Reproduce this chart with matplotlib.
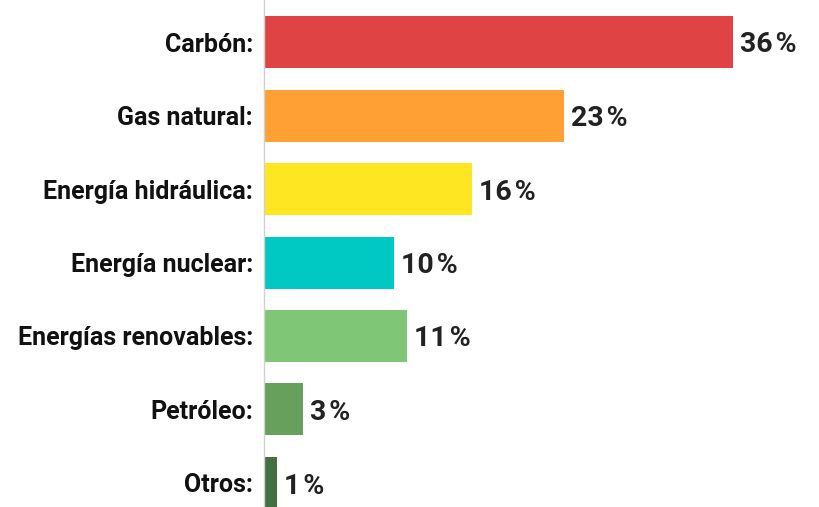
import matplotlib
matplotlib.use("Agg")
import matplotlib.pyplot as plt

# datos
categorias = ["Carbón:", "Gas natural:", "Energía hidráulica:", "Energía nuclear:",
              "Energías renovables:", "Petróleo:", "Otros:"]
valores = [36, 23, 16, 10, 11, 3, 1]
colores = ["#E04344", "#FFA035", "#FFE622", "#00C8C2", "#7FC676", "#679F5D", "#446F3F"]

plt.rcParams['font.family'] = ['Roboto', 'DejaVu Sans']

W, H = 819, 507
fig = plt.figure(figsize=(W / 100, H / 100), dpi=100)
x0 = 264
paso = 73.5      # separación entre barras en px
centro0 = 42     # centro de la primera barra en px
escala = 13.03   # px por punto porcentual

ax = fig.add_axes([x0 / W, 0, (W - x0) / W, 1])
pos = list(range(len(categorias)))
ax.barh(pos, valores, height=52 / paso, color=colores)

ax.set_xlim(0, (W - x0) / escala)
ax.set_ylim((H - centro0) / paso, -centro0 / paso)

for i, v in enumerate(valores):
    ax.annotate(f"{v}\u200a%", (v, i), xytext=(7, -3), textcoords="offset pixels",
                va="center", ha="left", fontsize=20.5, fontweight="bold", color="#222222")

ax.set_yticks(pos)
ax.set_yticklabels(categorias, fontsize=18, fontweight="bold", color="#111111")
ax.tick_params(axis="y", length=0, pad=8)
ax.set_xticks([])
for s in ["top", "right", "bottom"]:
    ax.spines[s].set_visible(False)
ax.spines["left"].set_color("#d0d0d0")
ax.spines["left"].set_linewidth(1)

fig.savefig("out.png", dpi=100)
